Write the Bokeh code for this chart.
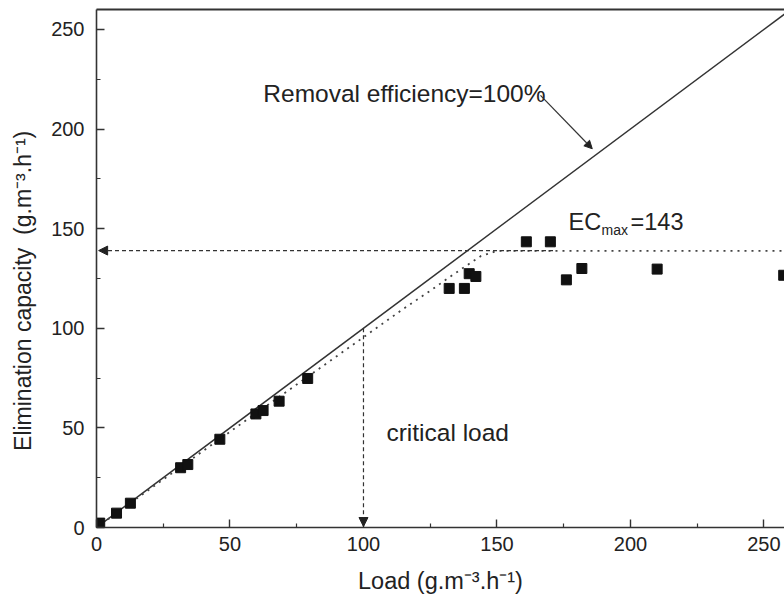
from bokeh.plotting import figure
from bokeh.models import Range1d, LinearAxis, Arrow, NormalHead, FixedTicker
from bokeh.core.properties import value
from bokeh.embed import file_html
from bokeh.resources import INLINE

# measured data (load vs elimination capacity)
load = [1.2, 7.5, 12.7, 31.5, 34.2, 46.2, 59.7, 62.4, 68.4, 79.1,
        132.1, 137.8, 139.6, 142.1, 161.0, 170.0, 176.0, 181.8, 210.0, 257.4]
ec = [2.2, 7.2, 12.2, 30.0, 31.6, 44.3, 57.0, 58.7, 63.4, 74.8,
      120.0, 120.0, 127.4, 126.0, 143.4, 143.4, 124.3, 130.0, 129.7, 126.6]

# 100% removal efficiency line
eff_x = [0, 260]
eff_y = [0, 260]

# dotted fit curve
fit_x = [0, 20, 40, 60, 80, 100, 115, 125, 133, 139, 144, 150, 258]
fit_y = [0, 19.3, 38.5, 57.6, 76.5, 95.5, 109.8, 118.8, 126.4, 131.8, 136.3, 138.8, 138.8]

ec_max_level = 139
ec_max_dash_end = 171
critical_load = 100

x_ticks = [0, 50, 100, 150, 200, 250]
y_ticks = [0, 50, 100, 150, 200, 250]
minor = [25, 75, 125, 175, 225]

FONT = "Liberation Sans"
TXT = "#222222"

p = figure(width=784, height=598, output_backend="svg", toolbar_location=None,
           x_range=Range1d(0, 257.7), y_range=Range1d(0, 260),
           min_border_left=96, min_border_right=0, min_border_top=9, min_border_bottom=71)
p.outline_line_color = None
p.grid.visible = False
p.background_fill_color = "white"
p.border_fill_color = "white"

for ax, ticks in ((p.xaxis[0], x_ticks), (p.yaxis[0], y_ticks)):
    ax.ticker = FixedTicker(ticks=ticks, minor_ticks=minor)
    ax.major_tick_in = 8
    ax.major_tick_out = 0
    ax.minor_tick_in = 4
    ax.minor_tick_out = 0
    ax.axis_line_width = 1.6
    ax.axis_line_color = "#333333"
    ax.major_tick_line_color = "#333333"
    ax.minor_tick_line_color = "#333333"
    ax.major_tick_line_width = 1.4
    ax.minor_tick_line_width = 1.2
    ax.major_label_text_font = FONT
    ax.major_label_text_font_size = "20px"
    ax.major_label_text_color = TXT
    ax.axis_label_text_font = FONT
    ax.axis_label_text_font_style = "normal"
    ax.axis_label_text_color = TXT

NB = "\u00a0"
p.xaxis.axis_label = "Load (g.m\u207b\u00b3.h\u207b\u00b9)"
p.yaxis.axis_label = "Elimination capacity" + NB + " (g.m\u207b\u00b3.h\u207b\u00b9)" + NB * 7
p.xaxis.axis_label_text_font_size = "23.5px"
p.yaxis.axis_label_text_font_size = "23px"
p.xaxis.major_label_standoff = 9
p.yaxis.major_label_standoff = 12
p.xaxis.axis_label_standoff = 14
p.yaxis.axis_label_standoff = 12

# top border
top = LinearAxis(ticker=FixedTicker(ticks=[]), major_label_text_font_size="0px",
                 major_tick_in=0, major_tick_out=0, minor_tick_in=0, minor_tick_out=0,
                 axis_line_width=2, axis_line_color="#333333")
p.add_layout(top, "above")

# lines
p.line(eff_x, eff_y, line_color="#333333", line_width=1.5)
p.line(fit_x, fit_y, line_color="#444444", line_width=1.8, line_dash="2 5")

# arrows
p.add_layout(Arrow(end=NormalHead(size=9, fill_color="#222222", line_color="#222222"),
                   x_start=ec_max_dash_end, y_start=ec_max_level, x_end=0.8, y_end=ec_max_level,
                   line_color="#333333", line_width=1.2, line_dash="4 3"))
p.add_layout(Arrow(end=NormalHead(size=9, fill_color="#222222", line_color="#222222"),
                   x_start=critical_load, y_start=critical_load, x_end=critical_load, y_end=0.5,
                   line_color="#333333", line_width=1.2, line_dash="4 3"))
p.add_layout(Arrow(end=NormalHead(size=8, fill_color="#222222", line_color="#222222"),
                   x_start=166.3, y_start=216.9, x_end=185.7, y_end=190.1,
                   line_color="#333333", line_width=1.2))

# data points
p.scatter(load, ec, marker="square", size=10, fill_color="#111111", line_color="#111111")

# texts
p.text(x=[62.5], y=[218.0], text=["Removal efficiency=100%"], text_font=value(FONT),
       text_font_size="24.5px", text_color=TXT, text_baseline="alphabetic")
p.text(x=[108.6], y=[47.8], text=["critical load"], text_font=value(FONT),
       text_font_size="24.5px", text_color=TXT, text_baseline="alphabetic")
p.text(x=[176.8], y=[153.1], text=["EC"], text_font=value(FONT),
       text_font_size="23.5px", text_color=TXT, text_baseline="alphabetic")
p.text(x=[176.8], y=[153.1], text=["max"], text_font=value(FONT), x_offset=33, y_offset=8,
       text_font_size="14px", text_color=TXT, text_baseline="alphabetic")
p.text(x=[176.8], y=[153.1], text=["=143"], text_font=value(FONT), x_offset=62,
       text_font_size="23.5px", text_color=TXT, text_baseline="alphabetic")

open("out.html", "w").write(file_html(p, INLINE))
